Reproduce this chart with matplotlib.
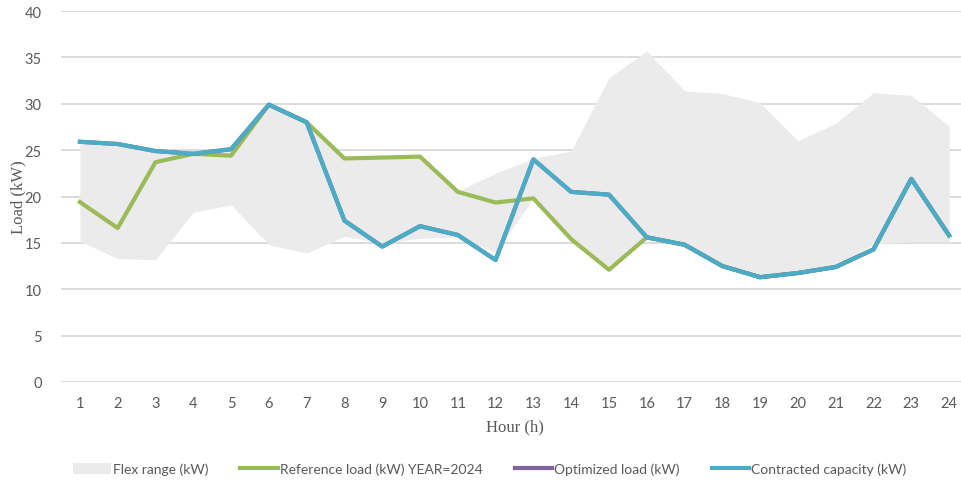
import matplotlib
matplotlib.use("Agg")
import matplotlib.pyplot as plt
from matplotlib.patches import Patch
from matplotlib.lines import Line2D

hours = list(range(1, 25))

flex_upper = [25.8, 25.6, 24.9, 24.6, 25.1, 30.0, 28.0, 24.1, 24.2, 24.3, 20.6, 22.5,
              24.1, 24.9, 32.8, 35.7, 31.4, 31.1, 30.1, 26.0, 27.9, 31.2, 30.9, 27.6]
flex_lower = [15.2, 13.3, 13.2, 18.3, 19.1, 14.8, 13.9, 15.7, 15.0, 15.5, 15.6, 14.0,
              19.8, 15.4, 12.1, 15.6, 14.8, 12.5, 11.3, 11.8, 12.4, 14.9, 15.1, 15.1]

reference_load = [19.4, 16.6, 23.7, 24.6, 24.4, 29.9, 28.0, 24.1, 24.2, 24.3, 20.5, 19.35,
                  19.8, 15.4, 12.1, 15.6, 14.8, 12.5, 11.3, 11.75, 12.4, 14.3, 21.9, 15.8]
optimized_load = [25.9, 25.66, 24.9, 24.6, 25.1, 29.9, 28.0, 17.4, 14.6, 16.8, 15.85, 13.15,
                  24.0, 20.5, 20.2, 15.6, 14.8, 12.5, 11.3, 11.75, 12.4, 14.3, 21.9, 15.8]
contracted_capacity = [25.9, 25.66, 24.9, 24.6, 25.1, 29.9, 28.0, 17.4, 14.6, 16.8, 15.85, 13.15,
                       24.0, 20.5, 20.2, 15.6, 14.8, 12.5, 11.3, 11.75, 12.4, 14.3, 21.9, 15.8]

y_ticks = [0, 5, 10, 15, 20, 25, 30, 35, 40]

legend_labels = ["Flex range (kW)", "Reference load (kW) YEAR=2024",
                 "Optimized load (kW)", "Contracted capacity (kW)"]

C_FLEX = "#EBEBEB"
C_REF = "#9BBB59"
C_OPT = "#8064A2"
C_CAP = "#4BACC6"
C_TEXT = "#595959"
C_GRID = "#D9D9D9"

W, H = 962, 481
fig = plt.figure(figsize=(W / 100, H / 100), dpi=100)
ax = fig.add_axes([61 / W, (H - 383) / H, (968 - 61) / W, (383 - 12) / H])

ax.fill_between(hours, flex_lower, flex_upper, color=C_FLEX, linewidth=0, zorder=1)
ax.plot(hours, reference_load, color=C_REF, lw=3.0, zorder=3, solid_joinstyle="round")
ax.plot(hours, optimized_load, color=C_OPT, lw=3.0, zorder=4, solid_joinstyle="round")
ax.plot(hours, contracted_capacity, color=C_CAP, lw=3.0, zorder=5, solid_joinstyle="round")

ax.set_xlim(0.5, 24.5)
ax.set_ylim(0, 40)
ax.set_xticks(hours)
ax.set_xticklabels([str(h) for h in hours])
ax.set_yticks(y_ticks)
ax.set_yticklabels([str(v) for v in y_ticks])
ax.yaxis.grid(True, color=C_GRID, lw=1.3, zorder=0)
ax.set_axisbelow(True)
for s in ax.spines.values():
    s.set_visible(False)
ax.tick_params(axis="both", length=0, labelsize=10.5, labelcolor=C_TEXT)
ax.tick_params(axis="x", pad=10)
ax.tick_params(axis="y", pad=14)
for lab in ax.get_xticklabels() + ax.get_yticklabels():
    lab.set_family("Lato")

fig.text(18 / W, 1 - 197 / H, "Load (kW)", rotation=90, ha="center", va="center",
         family="Liberation Serif", fontsize=12, color=C_TEXT)
fig.text(515 / W, 1 - 427 / H, "Hour (h)", ha="center", va="center",
         family="Liberation Serif", fontsize=12, color=C_TEXT)

handles = [Patch(facecolor=C_FLEX, edgecolor="none"),
           Line2D([], [], color=C_REF, lw=3),
           Line2D([], [], color=C_OPT, lw=3),
           Line2D([], [], color=C_CAP, lw=3)]
fig.legend(handles, legend_labels, ncol=4, loc="center", bbox_to_anchor=(490 / W, 1 - 470 / H),
           frameon=False, prop={"family": "Lato", "size": 10}, labelcolor=C_TEXT,
           handlelength=2.7, handletextpad=0.15, columnspacing=2.3, handleheight=0.8)

fig.savefig("out.png", dpi=100)
